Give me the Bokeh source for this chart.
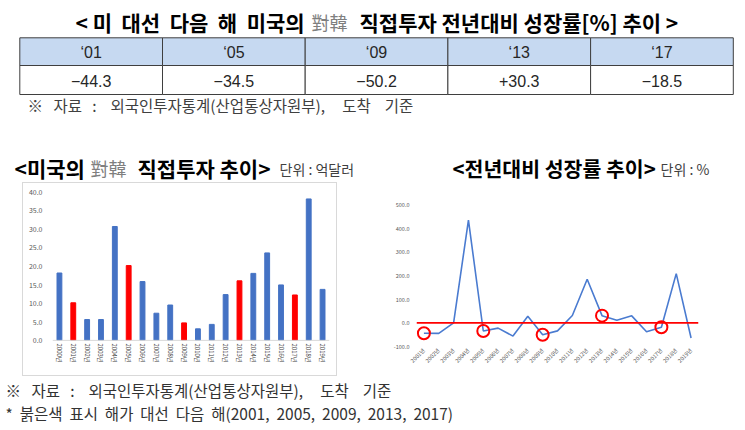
import numpy as np
from bokeh.plotting import figure
from bokeh.layouts import column, row
from bokeh.models import (ColumnDataSource, FactorRange, Range1d, Span, Spacer,
                          NumeralTickFormatter, SingleIntervalTicker)
from bokeh.core.properties import value
from bokeh.embed import file_html
from bokeh.resources import INLINE

KR = "Noto Sans CJK KR"
NUM = "Liberation Sans"
NB = "\u00a0"

# summary table: year after each US presidential election
table_years = ["‘01", "‘05", "‘09", "‘13", "‘17"]
table_growth = ["−44.3", "−34.5", "−50.2", "+30.3", "−18.5"]

# US direct investment into Korea (100 million USD)
bar_years = [f"{y}년" for y in range(2000, 2020)]
investment = [18.1, 10.1, 5.6, 5.6, 30.6, 20.1, 15.8, 7.3, 9.5, 4.7,
              3.1, 4.3, 12.3, 16.0, 18.0, 23.5, 14.9, 12.2, 38.0, 13.7]
election_next = ["2001년", "2005년", "2009년", "2013년", "2017년"]

# year-on-year growth (%)
growth_years = bar_years[1:]
growth = [-44.3, -44.6, 0.0, 434.0, -34.5, -22.5, -56.0, 28.0, -50.2, -34.0,
          31.0, 184.0, 30.3, 11.0, 29.5, -38.0, -18.5, 208.0, -64.0]

source_note = f"※{NB*2} 자료{NB*2} :{NB*3} 외국인투자통계(산업통상자원부),{NB*4} 도착{NB*3} 기준"
red_note = (f"*{NB} 붉은색{NB} 표시{NB} 해가{NB} 대선{NB} 다음{NB} "
            f"해(2001,{NB} 2005,{NB} 2009,{NB} 2013,{NB} 2017)")


def blank(w, h):
    f = figure(width=w, height=h, x_range=Range1d(0, w), y_range=Range1d(h, 0),
               x_axis_location=None, y_axis_location=None, min_border=0,
               output_backend="svg", toolbar_location=None)
    f.grid.visible = False
    f.outline_line_color = None
    return f


def plain_axes(f):
    f.grid.visible = False
    f.outline_line_color = None
    f.axis.major_tick_out = 0
    f.axis.major_tick_in = 0
    f.axis.minor_tick_out = 0
    f.axis.minor_tick_in = 0
    f.axis.major_label_text_color = "#595959"
    f.axis.major_label_text_font = KR


# ---- top: title + table ----
top = blank(745, 125)
top.text(x=[75, 359], y=[21, 21],
         text=[f"< 미{NB} 대선{NB} 다음{NB} 해{NB} 미국의", "직접투자 전년대비 성장률[%] 추이 >"],
         text_font=value(KR), text_font_size="21px",
         text_font_style="bold", text_color="black", text_baseline="middle")
top.text(x=[311], y=[21], text=["對韓"], text_font=value(KR), text_font_size="18px",
         text_color="#7f7f7f", text_baseline="middle")

tbl_left, tbl_w = 19.3, 142.7
xs = tbl_left + tbl_w * (np.arange(len(table_years)) + 0.5)
top.rect(x=xs, y=51.15, width=tbl_w, height=27.7, fill_color="#c6d9f1",
         line_color="#3f3f3f", line_width=1)
top.rect(x=xs, y=79.5, width=tbl_w, height=29, fill_color="white",
         line_color="#3f3f3f", line_width=1)
top.text(x=xs, y=52, text=table_years, text_font=value(NUM), text_font_size="16px",
         text_color="#262626", text_align="center", text_baseline="middle")
top.text(x=xs, y=80, text=table_growth, text_font=value(NUM), text_font_size="16px",
         text_color="#262626", text_align="center", text_baseline="middle")
top.text(x=[27], y=[104], text=[source_note], text_font=value(KR), text_font_size="15.5px",
         text_color="#404040", text_baseline="middle")

# ---- sub titles ----
mid = blank(745, 57)
mid.text(x=[14, 137], y=[42, 42], text=["<미국의", "직접투자 추이>"],
         text_font=value(KR), text_font_size="21px", text_font_style="bold",
         text_color="black", text_baseline="middle")
mid.text(x=[452], y=[42], text=["<전년대비 성장률 추이>"],
         text_font=value(KR), text_font_size="20.5px", text_font_style="bold",
         text_color="black", text_baseline="middle")
mid.text(x=[90], y=[42], text=["對韓"], text_font=value(KR), text_font_size="18px",
         text_color="#7f7f7f", text_baseline="middle")
mid.text(x=[279, 660], y=[43, 43], text=["단위 : 억달러", "단위 : %"],
         text_font=value(KR), text_font_size="14px", text_color="#404040",
         text_baseline="middle")

# both charts share frame top/bottom (the row lines frames up),
# so each y range is padded to put its own axis where the reference has it
# ---- bar chart ----
bar_colors = ["#ff0000" if y in election_next else "#4472c4" for y in bar_years]
src = ColumnDataSource(dict(year=bar_years, val=investment, color=bar_colors))
pb = figure(frame_width=275, frame_height=156, x_range=FactorRange(*bar_years),
            y_range=Range1d(-2.45, 40),
            min_border_left=29, min_border_right=9, min_border_top=8, min_border_bottom=28,
            output_backend="svg", toolbar_location=None,
            styles={"border": "1px solid #d9d9d9"})
pb.vbar(x="year", top="val", width=0.35, color="color", source=src)
pb.add_layout(Span(location=0, dimension="width", line_color="#d9d9d9", line_width=1))
plain_axes(pb)
pb.yaxis.ticker = SingleIntervalTicker(interval=5)
pb.yaxis.formatter = NumeralTickFormatter(format="0.0")
pb.axis.axis_line_color = None
pb.yaxis.major_label_standoff = 10
pb.xaxis.major_label_orientation = "vertical"
pb.xaxis.major_label_standoff = -6
pb.yaxis.major_label_text_font_size = "7px"
pb.xaxis.major_label_text_font_size = "6px"
pb.xaxis.major_label_text_color = "#404040"

# ---- growth line chart ----
pl = figure(frame_width=282, frame_height=156, x_range=FactorRange(*growth_years),
            y_range=Range1d(-100, 559),
            min_border_left=39, min_border_right=49, min_border_top=8, min_border_bottom=28,
            output_backend="svg", toolbar_location=None)
pl.add_layout(Span(location=0, dimension="width", line_color="#ff0000", line_width=1.6))
pl.line(growth_years, growth, line_color="#4a7bd0", line_width=1.6)
mark_y = [growth[growth_years.index(y)] for y in election_next]
pl.scatter(election_next, mark_y, size=12, fill_color=None, line_color="#ff0000", line_width=2)
plain_axes(pl)
pl.yaxis.ticker = SingleIntervalTicker(interval=100)
pl.yaxis.formatter = NumeralTickFormatter(format="0.0")
pl.axis.axis_line_color = None
pl.yaxis.major_label_standoff = 7
pl.xaxis.major_label_standoff = 3
pl.xaxis.major_label_orientation = np.pi / 4
pl.axis.major_label_text_font_size = "5.5px"

# ---- bottom notes ----
bot = blank(745, 56)
bot.text(x=[5, 5], y=[13, 36], text=[source_note, red_note], text_font=value(KR),
         text_font_size="15.5px", text_color="#333333", text_baseline="middle")

p = column(top, mid, row(Spacer(width=22, height=192), pb, Spacer(width=40, height=192), pl), bot)
open("out.html", "w").write(file_html(p, INLINE))
